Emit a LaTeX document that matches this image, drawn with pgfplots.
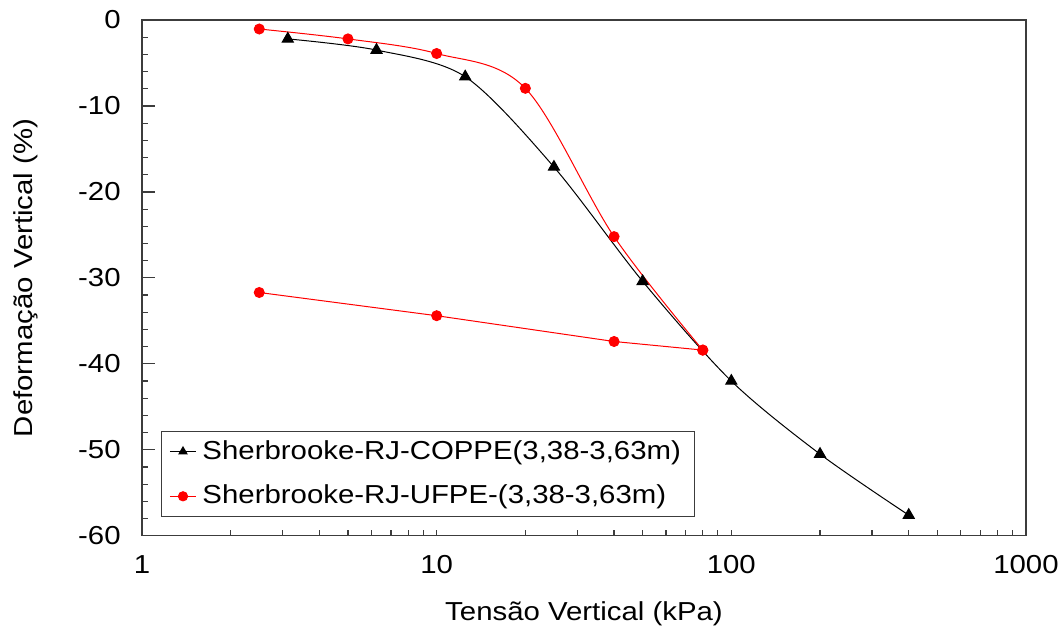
\documentclass[border=0pt]{standalone}
\usepackage{pgfplots}
\pgfplotsset{compat=1.18}
\usepackage{fontspec}
\setmainfont{Liberation Sans}[FakeStretch=1.13]
\definecolor{axgray}{RGB}{60,60,60}
\begin{document}
\fontsize{13pt}{15pt}\selectfont
\begin{tikzpicture}
\begin{axis}[
  at={(0,0)}, anchor=south west, scale only axis,
  width=442pt, height=257.9pt,
  xmode=log, log basis x=10,
  xmin=1, xmax=1000, ymin=-60, ymax=0,
  axis line style={axgray, line width=0.65pt},
  xtick={1,10,100,1000}, xticklabels={1,10,100,1000},
  minor xtick={2,3,4,5,6,7,8,9,10,20,30,40,50,60,70,80,90,100,200,300,400,500,600,700,800,900},
  every major x tick/.append style={draw=none},
  ytick={-60,-50,-40,-30,-20,-10,0},
  yticklabels={-60,-50,-40,-30,-20,-10,0},
  minor y tick num=4,
  xtick pos=bottom, ytick pos=left,
  tick align=inside,
  major tick length=6.5pt, minor tick length=3pt,
  tick style={axgray, line width=0.6pt},
  xticklabel style={inner sep=0pt, anchor=north, yshift=-9.5pt},
  yticklabel style={inner sep=0pt, anchor=east, xshift=-10.5pt},
  xlabel={Tensão Vertical (kPa)},
  ylabel={Deformação Vertical (\%)},
  xlabel style={at={(axis description cs:0.5,-0.1635)}, anchor=base},
  ylabel style={at={(axis description cs:-0.1233,0.5)}, anchor=base, rotate=0},
  legend style={at={(0,0)}, anchor=south west, xshift=9.5pt, yshift=9.3pt,
    draw=axgray, line width=0.5pt, inner xsep=4pt, inner ysep=1.5pt,
    row sep=5pt, legend cell align=left,
    nodes={inner sep=3pt}},
  legend image code/.code={\draw[mark repeat=2,mark phase=2, mark size=2.3pt] plot coordinates {(0pt,0pt)(6.5pt,0pt)(13pt,0pt)};},
]
\addplot[black, line width=0.5pt, smooth, tension=0.5, mark=triangle*, mark size=3.2pt, mark options={solid}]
  coordinates {(3.125,-2.2) (6.25,-3.5) (12.5,-6.6) (25,-17.1) (50,-30.4) (100,-42.0) (200,-50.5) (400,-57.6)};
\addlegendentry{Sherbrooke-RJ-COPPE(3,38-3,63m)}
\addplot[red, line width=0.5pt, smooth, tension=0.55, mark=*, mark size=2.5pt, mark options={solid}]
  coordinates {(2.5,-1.05) (5,-2.2) (10,-3.9) (20,-7.95) (40,-25.2) (80,-38.4)};
\addlegendentry{Sherbrooke-RJ-UFPE-(3,38-3,63m)}
\addplot[red, line width=0.5pt, mark=*, mark size=2.5pt, forget plot]
  coordinates {(80,-38.4) (40,-37.4) (10,-34.4) (2.5,-31.7)};
\coordinate (bl) at (rel axis cs:0,0);
\coordinate (tr) at (rel axis cs:1,1);
\end{axis}
\pgfresetboundingbox
\path ([shift={(-71pt,-45.7pt)}]bl) rectangle ([shift={(18pt,10pt)}]tr);
\end{tikzpicture}
\end{document}
